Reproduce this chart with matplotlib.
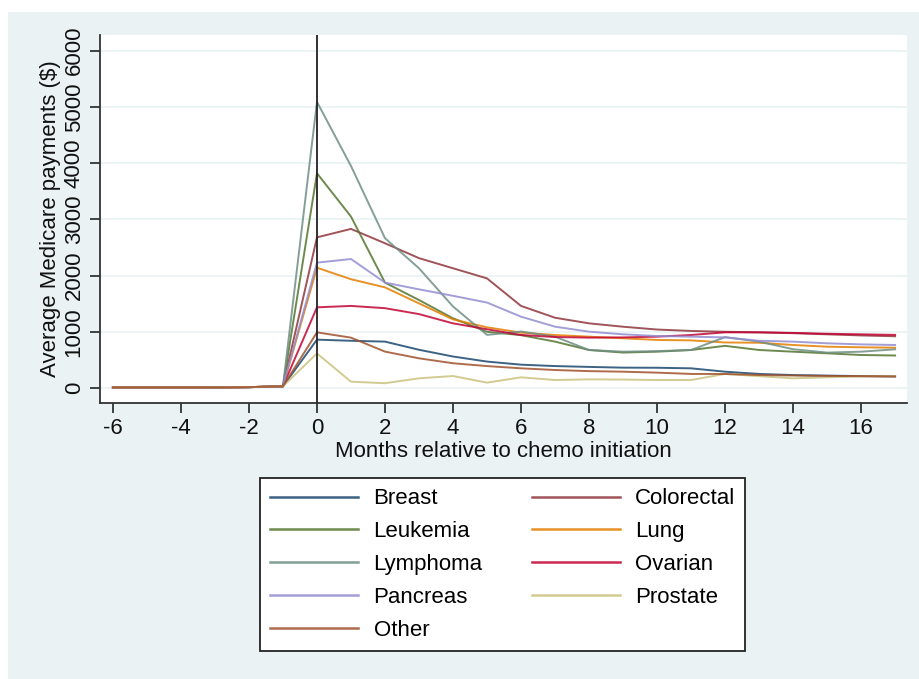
import matplotlib
matplotlib.use("Agg")
import matplotlib.pyplot as plt
from matplotlib.patches import Rectangle
from matplotlib.lines import Line2D

plt.rcParams['font.family'] = ['Liberation Sans', 'DejaVu Sans']
plt.rcParams['axes.unicode_minus'] = False

months = list(range(-6, 18))

breast = [10, 10, 10, 10, 15, 30, 860, 840, 825, 680, 560, 470, 415, 390, 375, 362, 360, 350, 290, 250, 230, 220, 212, 205]
colorectal = [10, 10, 10, 10, 15, 30, 2680, 2830, 2575, 2310, 2130, 1950, 1460, 1250, 1150, 1090, 1040, 1015, 1000, 990, 975, 955, 935, 920]
leukemia = [10, 10, 10, 10, 15, 30, 3820, 3050, 1875, 1565, 1240, 1000, 940, 825, 676, 630, 646, 676, 750, 676, 646, 617, 587, 578]
lung = [10, 10, 10, 10, 15, 30, 2140, 1935, 1790, 1505, 1220, 1080, 985, 943, 913, 884, 855, 847, 810, 805, 765, 735, 724, 717]
lymphoma = [10, 10, 10, 10, 15, 30, 5090, 3950, 2665, 2130, 1450, 945, 1005, 913, 676, 646, 656, 676, 905, 825, 690, 630, 646, 688]
ovarian = [10, 10, 10, 10, 15, 30, 1435, 1460, 1420, 1315, 1150, 1045, 943, 907, 896, 900, 913, 943, 990, 990, 980, 965, 955, 945]
pancreas = [10, 10, 10, 10, 15, 30, 2230, 2295, 1875, 1755, 1640, 1520, 1269, 1091, 1002, 955, 925, 913, 900, 840, 825, 795, 776, 765]
prostate = [10, 10, 10, 10, 15, 30, 615, 112, 85, 172, 213, 95, 190, 142, 154, 150, 142, 142, 250, 210, 172, 190, 205, 208]
other = [10, 10, 10, 10, 15, 30, 990, 896, 647, 528, 440, 390, 350, 320, 300, 290, 273, 250, 249, 231, 222, 215, 210, 205]

series = [
    ("Breast", breast, "#1a476f"),
    ("Colorectal", colorectal, "#90353b"),
    ("Leukemia", leukemia, "#55752f"),
    ("Lung", lung, "#e37e00"),
    ("Lymphoma", lymphoma, "#6e8e84"),
    ("Ovarian", ovarian, "#c10534"),
    ("Pancreas", pancreas, "#938dd2"),
    ("Prostate", prostate, "#cac27e"),
    ("Other", other, "#a0522d"),
]

x_ticks = list(range(-6, 18, 2))
y_ticks = list(range(0, 7000, 1000))

bg = "#eaf2f3"
fs = 16
W, H = 919, 679
fig = plt.figure(figsize=(W / 100, H / 100), dpi=100)
fig.patch.set_facecolor("white")
fig.patches.append(Rectangle((8 / W, 0), 1 - 8 / W, 1 - 12 / H, transform=fig.transFigure,
                             facecolor=bg, edgecolor="none", zorder=-10))

ax = fig.add_axes([100 / W, (H - 403) / H, 807 / W, 368 / H])
ax.set_facecolor("white")

for name, vals, col in series:
    ax.plot(months, vals, color=col, lw=1.4, alpha=0.85, label=name, zorder=3)

ax.axvline(0, color="#222222", lw=1.3, zorder=4)

ax.set_xlim(-6.38, 17.35)
ax.set_ylim(-267, 6280)
ax.set_xticks(x_ticks)
ax.set_yticks(y_ticks)
ax.set_yticklabels([str(v) for v in y_ticks], rotation=90, va="center")
ax.grid(axis="y", color=bg, lw=1.2, zorder=0)
ax.set_axisbelow(True)

for s in ("top", "right"):
    ax.spines[s].set_visible(False)
for s in ("left", "bottom"):
    ax.spines[s].set_color("#333333")
    ax.spines[s].set_linewidth(1.3)
ax.tick_params(direction="out", length=7, width=1.3, color="#333333",
               labelsize=fs, labelcolor="#111111")
ax.tick_params(axis="y", pad=4)
ax.tick_params(axis="x", pad=4)

ax.set_xlabel("Months relative to chemo initiation", fontsize=fs, color="#111111", labelpad=1)
ax.set_ylabel("Average Medicare payments ($)", fontsize=fs, color="#111111", labelpad=2)

# legend: two columns filled row by row
handles = {name: Line2D([], [], color=col, lw=1.8, alpha=0.85) for name, _, col in series}
left_col = ["Breast", "Leukemia", "Lymphoma", "Pancreas", "Other"]
right_col = ["Colorectal", "Lung", "Ovarian", "Prostate"]
order = left_col + right_col
leg = fig.legend([handles[n] for n in order], order, ncol=2,
                 loc="upper left", bbox_to_anchor=(260 / W, 1 - 478 / H),
                 borderaxespad=0, fontsize=fs, frameon=True, fancybox=False,
                 framealpha=1, handlelength=3.96, handletextpad=0.68,
                 columnspacing=2.2, labelspacing=0.53, borderpad=0.47)
frame = leg.get_frame()
frame.set_edgecolor("#222222")
frame.set_linewidth(1.3)
frame.set_facecolor("white")

fig.savefig("out.png", dpi=100, facecolor=fig.get_facecolor())
